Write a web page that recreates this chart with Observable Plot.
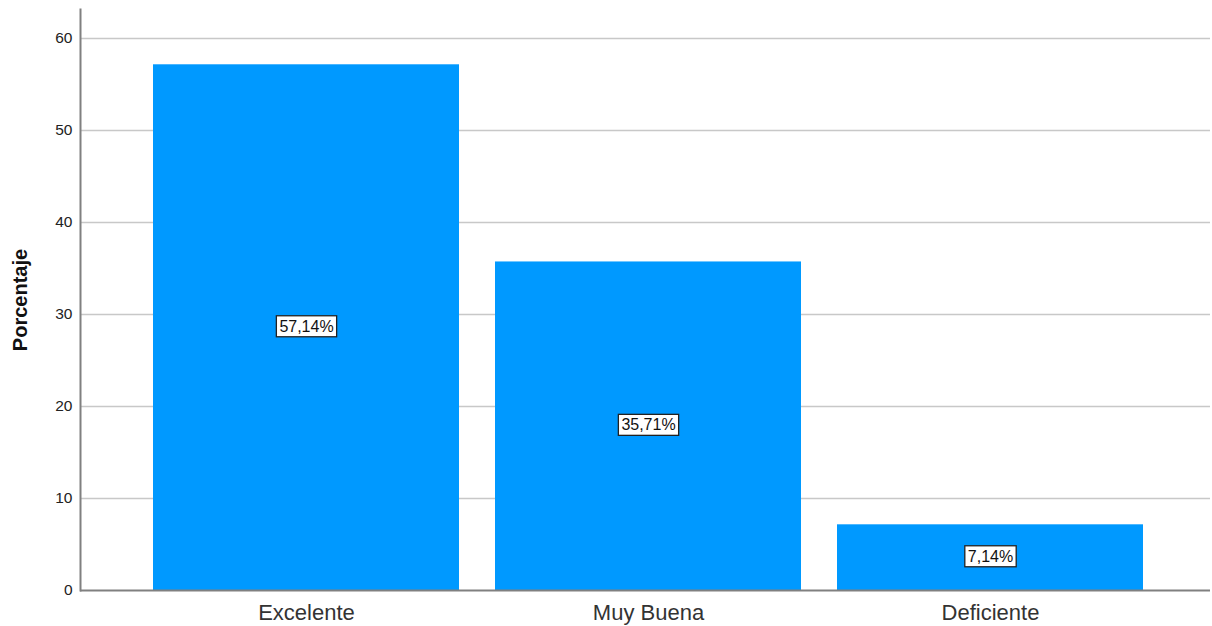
<!DOCTYPE html>
<html><head><meta charset="utf-8">
<script src="https://cdn.jsdelivr.net/npm/d3@7"></script>
<script src="https://cdn.jsdelivr.net/npm/@observablehq/plot@0.6"></script>
<style>body{margin:0;background:#fff;font-family:"Liberation Sans",Arial,sans-serif}</style>
</head><body><div id="chart"></div>
<script>
const categories = ["Excelente", "Muy Buena", "Deficiente"];
const values = [57.14, 35.71, 7.14];
const labels = ["57,14%", "35,71%", "7,14%"];
const yTicks = [0, 10, 20, 30, 40, 50, 60];

const data = categories.map((c, i) => ({cat: c, value: values[i], label: labels[i]}));

function boxed(index, scales, values, dims, context, next) {
  const g = next(index, scales, values, dims, context);
  setTimeout(() => {
    g.querySelectorAll("text").forEach(t => {
      const b = t.getBBox();
      const r = document.createElementNS("http://www.w3.org/2000/svg", "rect");
      r.setAttribute("x", b.x - 3); r.setAttribute("y", b.y - 2);
      r.setAttribute("width", b.width + 6); r.setAttribute("height", b.height + 4);
      r.setAttribute("fill", "#fff"); r.setAttribute("stroke", "#222"); r.setAttribute("stroke-width", 1.3);
      if (t.getAttribute("transform")) r.setAttribute("transform", t.getAttribute("transform"));
      t.parentNode.insertBefore(r, t);
    });
  }, 0);
  return g;
}

const chart = Plot.plot({
  width: 1212, height: 626,
  marginLeft: 80, marginRight: 2, marginTop: 9, marginBottom: 36,
  style: {fontFamily: "'Liberation Sans', Arial, sans-serif", background: "#fff"},
  x: {domain: categories, paddingInner: 0.105, paddingOuter: 0.2, range: [84.5, 1212], label: null},
  y: {domain: [0, 63.15], label: null},
  marks: [
    Plot.gridY(yTicks.filter(d => d > 0), {stroke: "#c8c8c8", strokeOpacity: 1, strokeWidth: 1.5}),
    Plot.barY(data, {x: "cat", y: "value", fill: "#0099ff"}),
    Plot.ruleY([0], {stroke: "#808080", strokeWidth: 2}),
    Plot.frame({anchor: "left", stroke: "#808080", strokeWidth: 2}),
    Plot.axisY({ticks: yTicks, tickSize: 0, tickPadding: 8, fontSize: 15.5, fill: "#222", label: null}),
    Plot.axisX({tickSize: 0, tickPadding: 14, fontSize: 22, fill: "#333", label: null}),
    Plot.text(data, {x: "cat", y: d => d.value / 2, dy: -1, text: "label", fontSize: 16, fill: "#111", render: boxed}),
    Plot.text(["Porcentaje"], {frameAnchor: "left", textAnchor: "middle", dx: -60, rotate: -90, fontSize: 20, fontWeight: "bold", fill: "#111", text: d => d})
  ]
});
document.getElementById("chart").appendChild(chart);
</script>
</body></html>
